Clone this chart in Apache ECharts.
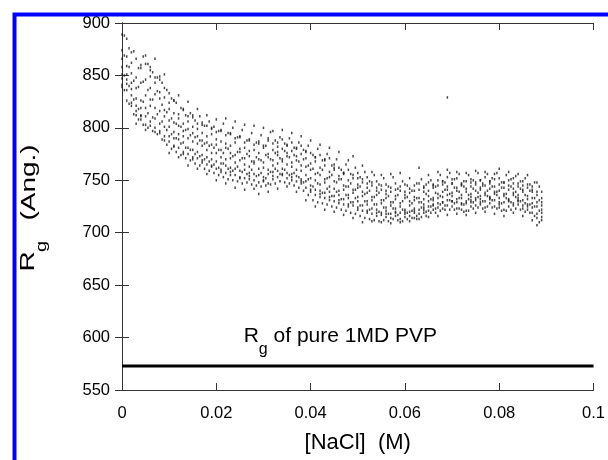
<!DOCTYPE html>
<html><head><meta charset="utf-8">
<script src="https://cdn.jsdelivr.net/npm/echarts@6/dist/echarts.min.js"></script>
<style>html,body{margin:0;padding:0;background:#fff}#c{width:608px;height:460px}</style>
</head><body><div id="c"></div>
<script>
// ---- data ----
const xTicks = [0, 0.02, 0.04, 0.06, 0.08, 0.1];
const yTicks = [550, 600, 650, 700, 750, 800, 850, 900];
const pureRg = 573;
const pureLabelAt = [0.0463, 597];

const nacl = [0,0.001,0.002,0.003,0.004,0.005,0.006,0.007,0.008,0.009,
0.010,0.011,0.012,0.013,0.014,0.015,0.016,0.017,0.018,0.019,
0.020,0.021,0.022,0.023,0.024,0.025,0.026,0.027,0.028,0.029,
0.030,0.031,0.032,0.033,0.034,0.035,0.036,0.037,0.038,0.039,
0.040,0.041,0.042,0.043,0.044,0.045,0.046,0.047,0.048,0.049,
0.050,0.051,0.052,0.053,0.054,0.055,0.056,0.057,0.058,0.059,
0.060,0.061,0.062,0.063,0.064,0.065,0.066,0.067,0.068,0.069,
0.070,0.071,0.072,0.073,0.074,0.075,0.076,0.077,0.078,0.079,
0.080,0.081,0.082,0.083,0.084,0.085,0.086,0.087,0.088,0.089];
const rgCols = [
[889,874,866,858,851,847,839,841],[885,868,859,851,846,842,836,826],[872,862,852,843,837,831,824,821],
[866,848,838,828,821,816,812,804],[860,857,843,826,819,812,808,811],[869,861,846,831,819,811,803,798],
[858,855,849,838,827,821,806,802],[866,848,843,832,819,809,800,796],[849,846,834,828,816,804,797,795],
[851,838,829,817,811,801,792,788],[833,824,818,807,801,792,787,776],[826,826,814,805,796,790,783,782],
[831,813,809,802,794,789,781,772],[818,817,804,797,792,786,777,775],[825,811,806,799,790,781,775,764],
[812,810,801,795,787,779,772,770],[818,804,799,792,785,777,771,761],[803,805,795,788,783,774,769,767],
[812,802,792,786,779,772,765,756],[800,799,794,784,776,770,764,763],[808,796,789,784,776,768,761,750],
[797,798,787,779,772,766,760,758],[809,793,785,781,770,764,757,747],[794,795,783,776,771,762,758,755],
[806,790,786,774,767,761,755,743],[791,792,780,777,769,759,753,752],[803,786,781,771,765,760,752,741],
[788,789,778,773,763,757,754,751],[802,784,779,768,766,756,750,742],[785,787,776,770,761,755,748,737],
[800,783,781,767,762,753,749,750],[790,788,775,772,760,756,747,739],[797,785,779,769,764,758,751,754],
[786,782,777,774,766,759,753,742],[798,789,780,770,768,761,755,756],[783,784,776,773,765,757,752,744],
[795,786,778,767,763,756,750,753],[780,781,773,769,760,754,749,739],[792,783,775,764,759,751,747,749],
[777,778,771,763,755,749,743,731],[788,776,766,760,752,745,739,741],[772,772,768,756,750,741,736,725],
[784,774,762,755,746,740,734,737],[770,769,764,751,748,738,733,722],[781,771,758,753,744,739,731,734],
[762,765,760,749,742,735,730,720],[777,762,754,751,740,736,728,731],[757,757,756,745,741,732,727,717],
[769,760,750,744,736,733,725,727],[773,755,752,741,738,729,726,714],[752,757,746,743,734,730,722,724],
[764,751,748,739,735,726,721,710],[747,753,743,738,730,727,719,721],[758,748,745,734,731,723,718,711],
[743,749,740,736,727,722,716,719],[755,745,741,731,728,719,717,710],[740,746,737,733,724,721,715,718],
[756,743,739,729,726,718,714,709],[741,747,735,732,723,720,716,719],[757,744,740,728,725,719,713,710],
[739,746,736,733,722,718,715,720],[752,742,738,730,726,720,716,711],[740,745,734,731,723,721,714,719],
[762,747,741,733,729,722,718,713],[744,743,739,732,727,724,719,722],[755,748,740,735,730,725,721,715],
[745,746,743,733,731,726,722,727],[758,750,745,737,733,728,724,716],[749,749,746,739,734,729,723,729],
[760,753,744,741,736,731,726,717],[747,751,747,738,735,730,725,730],[758,752,743,740,732,729,723,718],
[746,747,745,736,733,727,722,728],[757,749,742,739,730,728,721,717],[748,751,744,737,734,729,725,731],
[759,748,746,740,733,731,726,719],[750,750,743,741,735,729,727,732],[758,753,745,738,736,730,724,720],
[749,749,747,742,734,732,728,733],[756,751,744,739,737,731,725,718],[761,752,746,740,733,727,724,729],
[748,748,743,737,735,729,722,716],[758,750,745,741,732,730,725,731],[747,752,742,738,736,728,726,719],
[756,747,744,736,733,731,727,730],[745,749,741,739,731,726,723,716],[755,746,743,735,732,725,722,727],
[741,744,739,733,728,724,719,712],[748,739,736,729,725,718,714,707],[739,733,729,726,722,719,715,712]];

const naclHalf = [0.0005,0.0015,0.0025,0.0035,0.0045,0.0055,0.0065,0.0075,0.0085,0.0095,
0.0105,0.0115,0.0125,0.0135,0.0145,0.0155,0.0165,0.0175,0.0185,0.0195,
0.0205,0.0215,0.0225,0.0235,0.0245,0.0255,0.0265,0.0275,0.0285,0.0295,
0.0305,0.0315,0.0325,0.0335,0.0345,0.0355,0.0365,0.0375,0.0385,0.0395,
0.0405,0.0415,0.0425,0.0435,0.0445,0.0455,0.0465,0.0475,0.0485,0.0495,
0.0505,0.0515,0.0525,0.0535,0.0545,0.0555,0.0565,0.0575,0.0585,0.0595,
0.0605,0.0615,0.0625,0.0635,0.0645,0.0655,0.0665,0.0675,0.0685,0.0695,
0.0705,0.0715,0.0725,0.0735,0.0745,0.0755,0.0765,0.0775,0.0785,0.0795,
0.0805,0.0815,0.0825,0.0835,0.0845,0.0855,0.0865,0.0875,0.0885];
const rgHalf = [
[888,869,850,836],[876,858,840,823],[873,845,827,813],[857,839,818,808],[868,844,825,803],
[861,836,814,800],[853,827,810,797],[848,835,813,794],[843,822,806,789],[836,815,798,784],
[828,809,794,780],[824,804,790,777],[819,801,785,774],[812,798,781,771],[814,793,779,769],
[807,791,775,766],[811,788,773,764],[802,785,770,761],[806,783,768,759],[801,781,765,757],
[797,779,762,755],[804,776,766,753],[795,780,761,751],[800,773,759,750],[791,777,763,749],
[798,771,758,747],[788,775,756,748],[795,768,760,746],[786,772,754,745],[793,769,757,744],
[783,774,752,745],[796,770,758,746],[788,776,761,747],[791,771,756,749],[785,778,760,748],
[790,772,755,747],[781,774,757,745],[786,768,753,743],[779,770,748,740],[783,764,751,736],
[774,761,744,731],[780,757,747,729],[769,760,738,728],[775,752,742,727],[764,755,735,725],
[770,748,739,724],[760,751,732,722],[765,744,736,721],[756,747,729,719],[762,741,733,718],
[753,744,726,716],[758,737,730,714],[749,740,722,713],[755,734,727,712],[746,738,720,711],
[752,731,724,712],[744,735,718,711],[753,729,723,713],[742,736,717,712],[749,730,722,711],
[745,734,719,713],[740,728,721,714],[747,733,716,713],[751,729,724,715],[746,737,720,716],
[750,732,725,719],[744,738,723,719],[755,735,727,721],[748,741,726,722],[757,737,731,722],
[751,743,728,722],[756,739,733,723],[749,744,727,720],[755,736,732,721],[750,742,729,723],
[757,738,734,724],[747,745,730,723],[756,740,735,725],[752,744,731,724],[757,739,736,723],
[748,743,728,721],[755,737,733,721],[751,744,729,722],[754,739,734,723],[749,742,730,722],
[752,736,728,720],[746,740,727,719],[748,733,725,716],[744,731,721,710]];
const outlier = [[0.069, 829]];

// ---- build series data ----
const pts = [];
nacl.forEach((x, i) => rgCols[i].forEach(y => pts.push([x, y])));
naclHalf.forEach((x, i) => rgHalf[i].forEach(y => pts.push([x, y])));
outlier.forEach(p => pts.push(p));

const FONT = '"Liberation Sans", Arial, sans-serif';
const chart = echarts.init(document.getElementById('c'), null, {renderer: 'canvas'});
const axLine = {show: true, lineStyle: {color: '#333', width: 1}};
const tick = {show: true, inside: true, length: 7, lineStyle: {color: '#333', width: 1}};

chart.setOption({
  animation: false,
  backgroundColor: '#fff',
  grid: {left: 122, right: 9, top: 23, bottom: 70, containLabel: false},
  xAxis: [{
    type: 'value', min: xTicks[0], max: xTicks[xTicks.length - 1], interval: 0.02,
    axisLine: axLine, axisTick: tick, splitLine: {show: false},
    axisLabel: {color: '#000', fontSize: 16.5, fontFamily: FONT, margin: 15},
    name: '[NaCl]  (M)', nameLocation: 'middle', nameGap: 42,
    nameTextStyle: {color: '#000', fontSize: 22, fontFamily: FONT}
  }, {
    type: 'value', position: 'top', min: xTicks[0], max: xTicks[xTicks.length - 1], interval: 0.02,
    axisLine: axLine, axisTick: tick, axisLabel: {show: false}, splitLine: {show: false}
  }],
  yAxis: [{
    type: 'value', min: yTicks[0], max: yTicks[yTicks.length - 1], interval: 50,
    axisLine: axLine, axisTick: tick, splitLine: {show: false},
    axisLabel: {color: '#000', fontSize: 16.5, fontFamily: FONT, margin: 12, padding: [4, 0, 0, 0]}
  }, {
    type: 'value', position: 'right', min: yTicks[0], max: yTicks[yTicks.length - 1], interval: 50,
    axisLine: axLine, axisTick: tick, axisLabel: {show: false}, splitLine: {show: false}
  }],
  series: [{
    type: 'scatter', data: pts, symbol: 'rect', symbolSize: [1.5, 2.5],
    itemStyle: {color: '#1a1a1a', opacity: 0.8}, silent: true
  }, {
    type: 'line', data: [[xTicks[0], pureRg], [xTicks[xTicks.length - 1], pureRg]],
    symbol: 'none', lineStyle: {color: '#000', width: 3}, silent: true
  }]
});

const lp = chart.convertToPixel({xAxisIndex: 0, yAxisIndex: 0}, pureLabelAt);
const gr = chart.getModel().getComponent('grid').coordinateSystem.getRect();
const gc = gr.y + gr.height / 2;
const yName = (txt, x, y, fs) => ({
  type: 'text', x: x, y: y, rotation: Math.PI / 2, scaleX: 1, scaleY: 0.75, z: 50,
  style: {text: txt, fontSize: fs, fontFamily: FONT, fill: '#000', align: 'center', verticalAlign: 'middle'}
});
chart.setOption({
  graphic: [{
    type: 'rect', left: 12, top: 12, shape: {x: 0, y: 0, width: 700, height: 560},
    style: {fill: 'none', stroke: '#0000ff', lineWidth: 4}, silent: true, z: 100
  }, {
    type: 'text', x: lp[0], y: lp[1], z: 50,
    style: {
      text: '{r|R}{s|g}{r| of pure 1MD PVP}', align: 'center', verticalAlign: 'middle',
      rich: {
        r: {fontSize: 21, fontFamily: FONT, fill: '#000', lineHeight: 34, verticalAlign: 'top', padding: [2, 0, 0, 0]},
        s: {fontSize: 16, fontFamily: FONT, fill: '#000', lineHeight: 34, verticalAlign: 'bottom'}
      }
    }
  },
  yName('R', 28, gc + 55, 28),
  yName('g', 42, gc + 40, 20),
  yName('(Ang.)', 29, gc - 24, 28)
  ]
});
</script></body></html>
